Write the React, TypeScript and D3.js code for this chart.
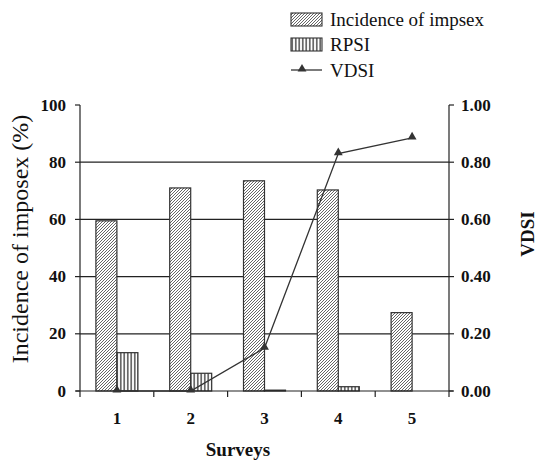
import React from "react";
import * as d3 from "d3";

const surveys = ["1", "2", "3", "4", "5"];
const incidence = [59.5, 71, 73.5, 70.3, 27.4];
const rpsi = [13.4, 6.2, 0.3, 1.5, 0];
const vdsi = [0, 0, 0.15, 0.83, 0.885];
const leftTicks = [0, 20, 40, 60, 80, 100];
const rightTicks = [0, 0.2, 0.4, 0.6, 0.8, 1.0];
const gridTicks = [20, 40, 60, 80];

const W = 540;
const H = 466;
const x0 = 80;
const x1 = 449;
const yTop = 105;
const yBot = 391;
const serif = "Liberation Serif";
const fs = (size: number, bold = false) => ({ fontFamily: serif, fontSize: size, fontWeight: bold ? 700 : 400 });

export default function App() {
  const x = d3.scaleBand<string>().domain(surveys).range([x0, x1]);
  const yL = d3.scaleLinear().domain([0, 100]).range([yBot, yTop]);
  const yR = d3.scaleLinear().domain([0, 1]).range([yBot, yTop]);
  const bw = 21;
  const cx = (s: string) => (x(s) as number) + x.bandwidth() / 2;
  const line = d3
    .line<number>()
    .x((_, i) => cx(surveys[i]))
    .y((d) => yR(d));
  const tri = d3.symbol().type(d3.symbolTriangle).size(34);
  const boundaries = surveys.map((s) => x(s) as number).concat([x1]);

  return (
    <svg width={W} height={H} style={{ position: "absolute", left: 0, top: 0, background: "#fff" }}>
      <defs>
        <pattern id="diag" patternUnits="userSpaceOnUse" width={3} height={3}>
          <rect width={3} height={3} fill="#fff" />
          <path d="M-1,1 l2,-2 M0,3 l3,-3 M2,4 l2,-2" stroke="#555" strokeWidth={0.9} />
        </pattern>
        <pattern id="vert" patternUnits="userSpaceOnUse" width={3.5} height={4}>
          <rect width={3.5} height={4} fill="#fff" />
          <line x1={1.75} y1={0} x2={1.75} y2={4} stroke="#222" strokeWidth={1.2} />
        </pattern>
      </defs>

      {gridTicks.map((t) => (
        <line key={t} x1={x0} x2={x1} y1={yL(t)} y2={yL(t)} stroke="#222" strokeWidth={1.2} />
      ))}

      {surveys.map((s, i) => (
        <g key={s}>
          <rect x={cx(s) - bw} y={yL(incidence[i])} width={bw} height={yBot - yL(incidence[i])} fill="url(#diag)" stroke="#333" strokeWidth={1.2} />
          {rpsi[i] > 0 && (
            <rect x={cx(s)} y={yL(rpsi[i])} width={bw} height={yBot - yL(rpsi[i])} fill="url(#vert)" stroke="#333" strokeWidth={1.2} />
          )}
        </g>
      ))}

      <line x1={x0} x2={x0} y1={yTop} y2={yBot} stroke="#222" strokeWidth={1.2} />
      <line x1={x1} x2={x1} y1={yTop} y2={yBot} stroke="#222" strokeWidth={1.2} />
      <line x1={x0 - 4} x2={x1 + 4} y1={yBot} y2={yBot} stroke="#222" strokeWidth={1.2} />
      {leftTicks.map((t) => (
        <g key={"l" + t}>
          <line x1={x0 - 5} x2={x0} y1={yL(t)} y2={yL(t)} stroke="#222" strokeWidth={1.2} />
          <text x={66} y={yL(t) + 5.5} textAnchor="end" style={fs(17, true)} fill="#111">
            {t}
          </text>
        </g>
      ))}
      {rightTicks.map((t) => (
        <g key={"r" + t}>
          <line x1={x1} x2={x1 + 5} y1={yR(t)} y2={yR(t)} stroke="#222" strokeWidth={1.2} />
          <text x={461} y={yR(t) + 5.5} textAnchor="start" style={fs(17, true)} fill="#111">
            {d3.format(".2f")(t)}
          </text>
        </g>
      ))}
      {boundaries.map((b, i) => (
        <line key={"b" + i} x1={b} x2={b} y1={yBot} y2={yBot + 6} stroke="#222" strokeWidth={1.2} />
      ))}
      {surveys.map((s) => (
        <text key={"c" + s} x={cx(s)} y={424} textAnchor="middle" style={fs(17, true)} fill="#111">
          {s}
        </text>
      ))}

      <path d={line(vdsi) as string} fill="none" stroke="#333" strokeWidth={1.3} />
      {vdsi.map((v, i) => (
        <path key={"t" + i} d={tri() as string} transform={`translate(${cx(surveys[i])},${yR(v) - 1})`} fill="#333" />
      ))}

      <text transform={`translate(28,239) rotate(-90)`} textAnchor="middle" style={fs(24)} fill="#111">
        Incidence of imposex (%)
      </text>
      <text transform={`translate(534,234) rotate(-90)`} textAnchor="middle" style={fs(19, true)} fill="#111">
        VDSI
      </text>
      <text x={238} y={456} textAnchor="middle" style={fs(19, true)} fill="#111">
        Surveys
      </text>

      <rect x={291} y={13} width={31} height={13} fill="url(#diag)" stroke="#333" strokeWidth={1.1} />
      <text x={330} y={26} style={fs(19)} fill="#111">Incidence of impsex</text>
      <rect x={291} y={38} width={31} height={13} fill="url(#vert)" stroke="#333" strokeWidth={1.1} />
      <text x={330} y={51} style={fs(19)} fill="#111">RPSI</text>
      <line x1={291} x2={322} y1={70} y2={70} stroke="#333" strokeWidth={1.3} />
      <path d={tri() as string} transform="translate(302,69)" fill="#333" />
      <text x={330} y={77} style={fs(19)} fill="#111">VDSI</text>
    </svg>
  );
}
